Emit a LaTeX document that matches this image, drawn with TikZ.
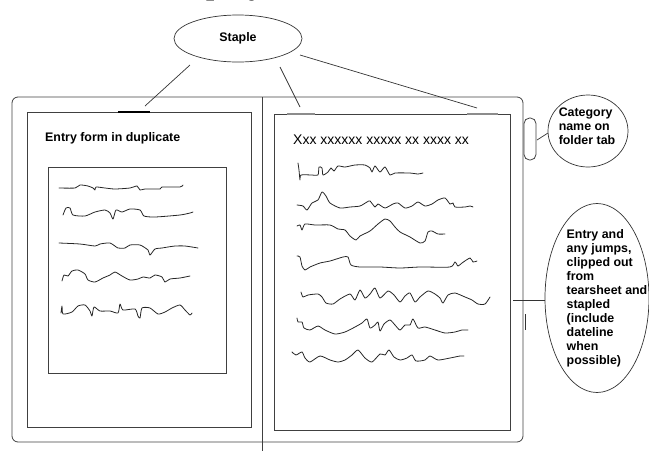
\documentclass[tikz,border=0pt]{standalone}
\usepackage{fontspec}
\setmainfont{Liberation Sans}
\newfontfamily\headserif{Liberation Serif}
\usetikzlibrary{shapes.geometric}
\begin{document}
\begin{tikzpicture}[x=1pt,y=-1pt,
  frame/.style={draw=black!75, line width=0.8pt},
  lbl/.style={font=\bfseries\fontsize{12.4}{14}\selectfont, align=left, inner sep=0pt},
  bubble/.style={ellipse, draw=black!80, line width=0.7pt, inner sep=0pt},
  leader/.style={draw=black!80, line width=0.7pt},
  scribble/.style={draw=black!85, line width=0.8pt, line join=round, line cap=round},
  graymark/.style={draw=black!45, line width=2.4pt},
  blackmark/.style={draw=black, line width=2pt}]
\useasboundingbox (0,0) rectangle (649,451);
\begin{scope}
\clip (0,0) rectangle (649,451);
\node[anchor=base west, inner sep=0pt, font=\headserif\fontsize{35}{40}\selectfont] (title) at (157,-7) {Display};
\end{scope}

% folder
\draw[frame, rounded corners=6pt] (12,97) rectangle (523,442);
\draw[frame] (262,97) -- (262,451);
% tab
\draw[frame, rounded corners=5.5pt] (524,118) rectangle (536,160);
% pages
\draw[frame] (27,112) rectangle (251,427);
\draw[frame] (274,114) rectangle (510,430);
\draw[frame] (48,167) rectangle (226,373);

% staple marks
\draw[blackmark] (118,112) -- (150,112);
\draw[graymark] (287,114) -- (315,114);
\draw[graymark] (467,114) -- (498,114);

% texts on pages
\node[lbl, anchor=west] (form) at (45,138) {Entry form in duplicate};
\node[anchor=west, inner sep=0pt, font=\fontsize{14}{16}\selectfont] (head) at (293,140) {Xxx xxxxxx xxxxx xx xxxx xx};

% callouts
\node[bubble, minimum width=128pt, minimum height=47pt] (staple) at (238,38.5) {};
\node[lbl] at (238,38) {Staple};
\node[bubble, minimum width=80pt, minimum height=72pt] (cat) at (588,131) {};
\node[lbl, align=left] at (587,126) {Category\\name on\\folder tab};
\node[bubble, minimum width=104pt, minimum height=189pt] (entry) at (597,298) {};
\node[lbl, align=left] at (607,298) {Entry and\\any jumps,\\clipped out\\from\\tearsheet and\\stapled\\(include\\dateline\\when\\possible)};

% leader lines
\coordinate (s1) at (190,65);
\coordinate (s2) at (280,67);
\coordinate (s3) at (300,55);
\coordinate (mL) at (145,106);
\coordinate (mR1) at (300,107);
\coordinate (mR2) at (477,108);
\draw[leader] (s1) -- (mL);
\draw[leader] (s2) -- (mR1);
\draw[leader] (s3) -- (mR2);
\coordinate (tabpt) at (537,140);
\coordinate (catpt) at (548,133);
\draw[leader] (tabpt) -- (catpt);
\coordinate (folderpt) at (513,300);
\coordinate (entrypt) at (545,300);
\draw[leader] (folderpt) -- (entrypt);
\draw[leader] (525,314) -- (525,330);

% scribbles, left form
\draw[scribble] plot[smooth, tension=0.4] coordinates {(59,188) (75,188) (80,185) (88,186) (93,188) (95,190) (96,187) (105,188) (115,189) (130,188) (137,186) (140,190) (145,189) (160,189) (162,187) (180,187) (183,185)};
\draw[scribble] plot[smooth, tension=0.4] coordinates {(63,215) (66,208) (70,208) (73,215) (85,216) (95,212) (105,210) (110,213) (113,219) (116,210) (122,212) (130,209) (140,210) (144,216) (155,217) (180,215) (190,213) (193,212)};
\draw[scribble] plot[smooth, tension=0.4] coordinates {(59,243) (80,244) (95,246) (100,244) (110,243) (118,248) (125,248) (130,245) (140,245) (148,250) (150,255) (155,249) (162,248) (168,247) (175,246) (185,246) (198,248)};
\draw[scribble] plot[smooth, tension=0.4] coordinates {(62,281) (64,275) (68,276) (72,271) (78,270) (85,274) (88,280) (95,282) (103,278) (110,275) (115,272) (122,276) (130,280) (138,279) (143,277) (150,278) (155,275) (162,277) (165,282) (170,279) (180,278) (190,276)};
\draw[scribble] plot[smooth, tension=0.4] coordinates {(61,313) (62,306) (63,314) (72,312) (78,306) (85,305) (90,311) (92,316) (94,307) (100,311) (110,311) (118,313) (120,304) (123,310) (135,309) (138,316) (140,318) (142,308) (150,308) (158,314) (165,312) (172,308) (180,305) (185,310) (190,315) (192,313)};

% scribbles, right page
\draw[scribble] plot[smooth, tension=0.4] coordinates {(298,163) (299,170) (300,180) (301,175) (312,175) (318,175) (319,167) (322,168) (323,175) (328,172) (331,168) (334,171) (338,166) (345,167) (355,165) (365,165) (370,168) (372,172) (375,166) (380,172) (385,167) (390,175) (395,173) (410,173) (418,174) (423,173)};
\draw[scribble] plot[smooth, tension=0.4] coordinates {(297,205) (303,206) (307,210) (312,203) (318,200) (322,192) (326,196) (330,203) (340,208) (350,207) (360,206) (367,202) (370,201) (375,207) (378,204) (385,208) (393,204) (398,203) (405,208) (412,206) (418,202) (425,206) (432,204) (438,200) (445,198) (450,204) (453,203) (455,207) (465,207) (470,206) (473,207)};
\draw[scribble] plot[smooth, tension=0.4] coordinates {(297,226) (300,225) (302,230) (305,224) (315,225) (330,225) (338,229) (345,230) (350,236) (356,240) (360,236) (370,231) (378,224) (385,219) (390,221) (395,227) (400,232) (410,237) (420,243) (425,241) (428,232) (432,231) (438,234) (445,234)};
\draw[scribble] plot[smooth, tension=0.4] coordinates {(297,256) (300,257) (302,266) (305,270) (310,267) (320,263) (330,261) (343,257) (348,257) (351,265) (360,267) (380,267) (400,268) (420,267) (450,267) (455,262) (458,266) (462,263) (470,258) (473,262) (477,261)};
\draw[scribble] plot[smooth, tension=0.4] coordinates {(301,292) (303,297) (308,295) (318,294) (322,297) (326,303) (333,304) (340,299) (350,294) (355,300) (360,290) (365,298) (370,294) (375,288) (380,298) (388,291) (394,295) (400,302) (405,296) (410,293) (415,302) (420,297) (428,291) (435,294) (440,298) (443,303) (448,295) (455,293) (465,297) (472,300) (478,304) (485,304) (490,297)};
\draw[scribble] plot[smooth, tension=0.4] coordinates {(297,318) (298,322) (302,322) (304,328) (310,330) (318,326) (325,330) (335,334) (345,332) (355,327) (362,323) (367,319) (370,328) (375,325) (378,322) (380,331) (384,324) (390,320) (395,325) (400,330) (405,325) (410,325) (413,319) (418,328) (425,327) (435,330) (445,333) (455,332) (462,330) (468,330)};
\draw[scribble] plot[smooth, tension=0.4] coordinates {(292,352) (296,355) (302,352) (305,358) (310,362) (320,356) (330,360) (338,362) (345,360) (352,355) (358,350) (365,358) (372,362) (380,354) (385,355) (389,350) (394,357) (400,360) (407,358) (412,355) (416,361) (425,360) (430,356) (438,360) (450,358) (455,357) (460,356) (464,356)};
\end{tikzpicture}
\end{document}
